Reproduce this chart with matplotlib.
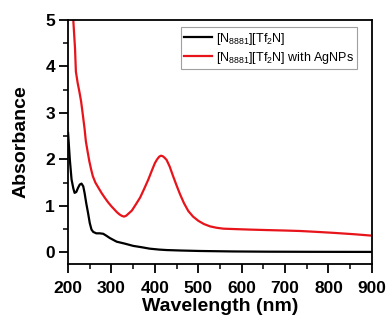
import matplotlib
matplotlib.use("Agg")
import matplotlib.pyplot as plt
from matplotlib.ticker import MultipleLocator

plt.rcParams['font.family'] = ['Liberation Sans', 'DejaVu Sans']
plt.rcParams['mathtext.fontset'] = 'custom'
plt.rcParams['mathtext.rm'] = 'Liberation Sans'
plt.rcParams['mathtext.default'] = 'rm'

# Spectra
wl_pure = [200, 204, 208, 212, 215, 219, 223, 227, 231, 235, 238, 242, 246, 250, 254, 258,
           265, 273, 281, 288, 296, 304, 312, 330, 350, 370, 388, 410, 427, 460, 504, 580, 658, 760, 900]
abs_pure = [2.57, 2.0, 1.57, 1.38, 1.28, 1.30, 1.39, 1.46, 1.48, 1.42, 1.28, 1.05, 0.85, 0.63, 0.49, 0.44,
            0.41, 0.41, 0.40, 0.36, 0.31, 0.27, 0.23, 0.19, 0.14, 0.11, 0.08, 0.06, 0.05, 0.04, 0.03, 0.02, 0.015, 0.012, 0.01]

wl_agnp = [212, 216, 218, 222, 226, 230, 234, 238, 241, 245, 249, 253, 257, 263, 270, 277, 285, 292, 300, 306,
           312, 318, 324, 329, 334, 340, 347, 356, 366, 375, 385, 393, 400, 405, 410, 414, 418, 422, 427,
           434, 442, 450, 458, 467, 477, 488, 500, 513, 527, 542, 558, 588, 620, 658, 700, 735, 775, 812, 860, 900]
abs_agnp = [5.0, 4.39, 3.89, 3.65, 3.46, 3.25, 2.96, 2.66, 2.39, 2.17, 1.96, 1.79, 1.64, 1.5, 1.39, 1.28, 1.17, 1.08, 0.99, 0.93,
            0.87, 0.82, 0.785, 0.77, 0.79, 0.84, 0.9, 1.03, 1.18, 1.36, 1.57, 1.76, 1.92, 2.0, 2.06, 2.08, 2.07, 2.04, 1.99,
            1.85, 1.64, 1.44, 1.25, 1.06, 0.89, 0.77, 0.68, 0.61, 0.56, 0.53, 0.51, 0.5, 0.49, 0.48, 0.47, 0.46, 0.44, 0.42, 0.39, 0.36]

fig = plt.figure(figsize=(3.89, 3.20), dpi=100)
ax = fig.add_axes([0.175, 0.175, 0.781, 0.7625])

ax.plot(wl_pure, abs_pure, color='black', lw=1.6, label=r'[N$_{8881}$][Tf$_2$N]')
ax.plot(wl_agnp, abs_agnp, color='#e8141b', lw=1.6, label=r'[N$_{8881}$][Tf$_2$N] with AgNPs')

ax.set_xlim(200, 900)
ax.set_ylim(-0.25, 5)
ax.xaxis.set_major_locator(MultipleLocator(100))
ax.xaxis.set_minor_locator(MultipleLocator(50))
ax.yaxis.set_major_locator(MultipleLocator(1))
ax.yaxis.set_minor_locator(MultipleLocator(0.5))
ax.tick_params(which='major', direction='out', length=6.5, width=1.3, labelsize=12.5)
ax.tick_params(which='minor', direction='out', length=3.6, width=1.1)
ax.tick_params(axis='x', which='major', pad=5.5)
ax.tick_params(axis='y', which='major', pad=3)
for lab in ax.get_xticklabels() + ax.get_yticklabels():
    lab.set_fontweight('bold')
for sp in ax.spines.values():
    sp.set_linewidth(1.3)

ax.set_xlabel('Wavelength (nm)', fontsize=14, fontweight='bold', labelpad=2)
ax.set_ylabel('Absorbance', fontsize=14, fontweight='bold', labelpad=11)

leg = ax.legend(loc='upper right', fontsize=9, fancybox=False, handlelength=2.2,
                borderpad=0.3, labelspacing=0.25, handletextpad=0.3, borderaxespad=0,
                bbox_to_anchor=(0.952, 0.972))
leg.get_frame().set_edgecolor('#888888')
leg.get_frame().set_linewidth(0.8)

fig.savefig('out.png', dpi=100)
